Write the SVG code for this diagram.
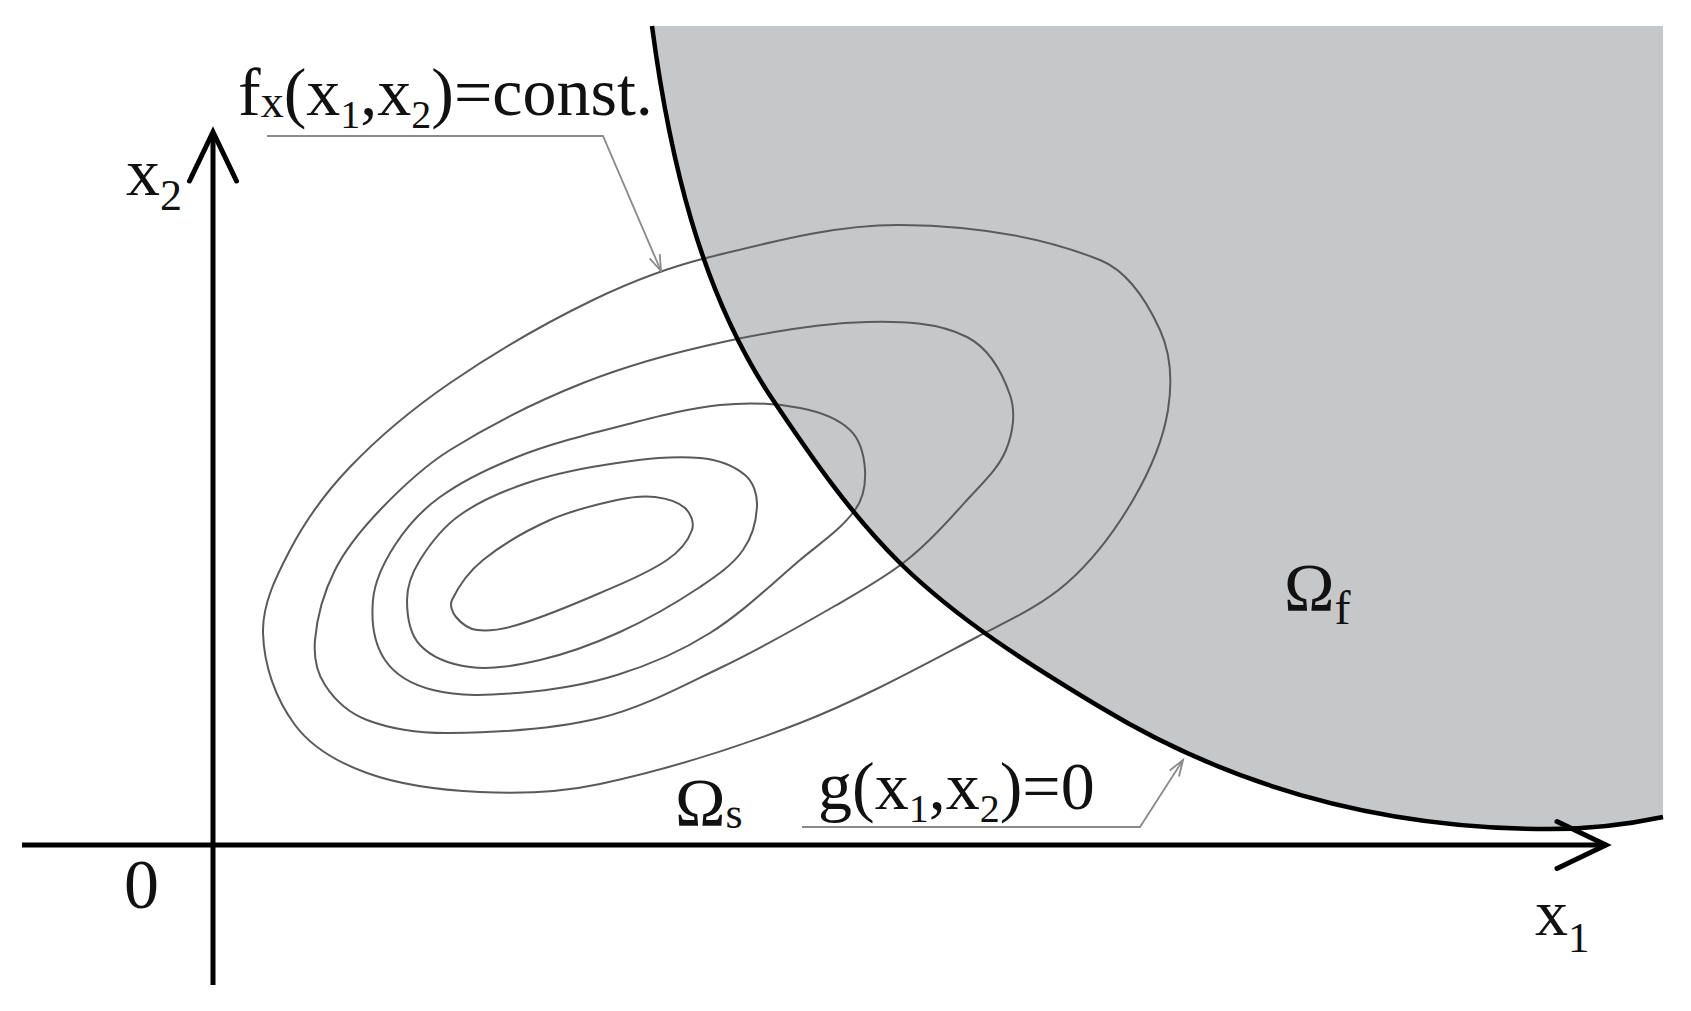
<svg xmlns="http://www.w3.org/2000/svg" width="1691" height="1011" viewBox="0 0 1691 1011">
  <style>
    .txt { font-family: "Liberation Serif", "Times New Roman", serif; fill: #111; }
    .contour { fill: none; stroke: #5a5a5a; stroke-width: 2; }
    .axis { fill: none; stroke: #000; stroke-width: 5; }
    .leader { fill: none; stroke: #8a8a8a; stroke-width: 1.8; }
  </style>
  <defs>
    <marker id="axisHead" markerUnits="userSpaceOnUse" viewBox="-55 -30 60 60" refX="0" refY="0" markerWidth="60" markerHeight="60" orient="auto" overflow="visible">
      <path d="M-49,-23.5 L0,0 L-49,23.5" fill="none" stroke="#000" stroke-width="5" stroke-linecap="round" stroke-linejoin="miter"/>
    </marker>
    <marker id="leaderHead" markerUnits="userSpaceOnUse" viewBox="-20 -10 24 20" refX="0" refY="0" markerWidth="24" markerHeight="20" orient="auto" overflow="visible">
      <path d="M-16,-5.5 L0,0 L-16,5.5" fill="none" stroke="#8a8a8a" stroke-width="1.8"/>
    </marker>
  </defs>
  <rect width="1691" height="1011" fill="#fff"/>

  <g id="region-omega-f">
    <path d="M652,26 C669,155 700,292 773,400 C811.5,457.3 851,514.7 900,563 C958,620 1029.7,664.7 1100,707 C1237,790 1390,829 1550,829 C1590,829 1630,824 1663,817 L1663,26 Z" fill="#c6c7c9"/>
  </g>

  <g id="contours">
    <path id="contour-5" class="contour" d="M263,633 C262.2,603.9 276.5,575.8 290,550 C305.8,519.8 326.4,491.6 350,467 C380.1,435.6 414.2,407.6 450,383 C495.4,351.8 543.4,324 593,300 C630.4,281.9 669.6,266.9 710,257 C772.3,241.8 835.8,224.5 900,225 C967.7,225.5 1037.2,234.7 1100,260 C1128.5,271.5 1147.3,302 1160,330 C1171.1,354.4 1172.2,383.5 1168,410 C1162.9,441.8 1149.2,472.2 1133,500 C1115.2,530.5 1093.5,559.7 1067,583 C1040.7,606.1 1008,620.8 977,637 C918.9,667.4 861.1,699.2 800,723 C735,748.3 668.1,769.3 600,784 C560.8,792.5 520.1,793.9 480,792 C441.8,790.2 402.9,786 367,773 C339.9,763.2 312.2,748.1 295,725 C275.6,698.9 263.9,665.5 263,633 Z"/>
    <path id="contour-4" class="contour" d="M315,640 C317.1,615.8 324.1,591.7 335,570 C346.2,547.7 362.7,528.1 380,510 C401.2,487.8 424,466.3 450,450 C492.1,423.7 536.9,401.3 583,383 C628.2,365.1 675.5,352.2 723,342 C770.4,331.8 818.5,323 867,322 C900.7,321.3 937,321.7 967,337 C988.4,348 1002.1,372.2 1010,395 C1016,412.4 1013,433 1006,450 C998,469.5 981.1,484.3 967,500 C948.1,521 929.1,542.3 907,560 C884.2,578.2 858.3,592.4 833,607 C795.9,628.4 758.6,649.6 720,668 C680.9,686.6 642.1,707.9 600,718 C551.2,729.7 500.2,732.5 450,733 C422,733.3 393.2,730 367,720 C350,713.5 334.9,700.3 325,685 C316.6,672.1 313.7,655.3 315,640 Z"/>
    <path id="contour-3" class="contour" d="M373,600 C374.7,580.4 384.3,561.5 395,545 C406.9,526.6 422.2,509.8 440,497 C463.4,480.1 490.1,467.6 517,457 C549.4,444.2 583.3,435.6 617,427 C651,418.3 685.1,408.6 720,405 C746.6,402.2 773.8,403 800,408 C817.9,411.4 836.8,417.4 850,430 C860.3,439.8 864.1,455.8 865,470 C865.8,483.7 863,498.9 855,510 C840.5,530.1 818.9,544 800,560 C770.5,585 742.7,612.5 710,633 C681.2,651.1 649.5,664.9 617,675 C584.6,685.1 550.8,690.3 517,693 C489.1,695.3 460.2,696.8 433,690 C414.7,685.4 395.5,675.7 385,660 C373.7,643 371.2,620.3 373,600 Z"/>
    <path id="contour-2" class="contour" d="M407,600 C407,586 412.6,571.9 420,560 C430.6,543 443.6,526.6 460,515 C481.1,500.1 505.5,490.1 530,482 C558.2,472.7 587.6,467.2 617,463 C644.4,459.1 672.4,455.4 700,458 C715.9,459.5 732.7,464.8 745,475 C753.3,481.9 757.3,494.2 757,505 C756.6,520.7 752,537.1 743,550 C732.2,565.5 715.7,576.5 700,587 C674.5,604 647.8,619.3 620,632 C594.2,643.7 567.6,653.6 540,660 C517.2,665.3 493.2,669.9 470,667 C451.9,664.7 432.5,658.3 420,645 C409.3,633.6 407,615.6 407,600 Z"/>
    <path id="contour-1" class="contour" d="M452,600 C459.2,584.7 469.9,570.7 483,560 C503.2,543.6 526.3,530.6 550,520 C571.3,510.5 594.2,505 617,500 C629.4,497.3 642.4,495.5 655,497 C665.6,498.3 677,500.9 685,508 C690.7,513.1 694.5,522.7 692,530 C687.7,542.3 677.7,552.7 667,560 C646.5,574.1 622.8,583.1 600,593 C572.8,604.8 545.5,616.4 517,625 C504.2,628.9 490.3,631.7 477,630 C468.9,628.9 461.2,623.3 456,617 C452.3,612.5 449.5,605.2 452,600 Z"/>
  </g>

  <g id="constraint-boundary">
    <path d="M652,26 C669,155 700,292 773,400 C811.5,457.3 851,514.7 900,563 C958,620 1029.7,664.7 1100,707 C1237,790 1390,829 1550,829 C1590,829 1630,824 1663,817" fill="none" stroke="#000" stroke-width="4.5"/>
  </g>

  <g id="axes">
    <line id="axis-x1" class="axis" x1="22" y1="845" x2="1606" y2="845" marker-end="url(#axisHead)"/>
    <line id="axis-x2" class="axis" x1="213" y1="985" x2="213" y2="132" marker-end="url(#axisHead)"/>
  </g>

  <g id="connectors">
    <polyline id="leader-f" class="leader" points="267,136 603,136 661,271" marker-end="url(#leaderHead)"/>
    <polyline id="leader-g" class="leader" points="802,827 1140,827 1183,760" marker-end="url(#leaderHead)"/>
  </g>

  <g id="label-f">
    <text class="txt" x="238" y="115" font-size="68">f<tspan font-size="46" dy="2">x</tspan><tspan dy="-2">(x</tspan><tspan font-size="40" dy="13">1</tspan><tspan dy="-13">,x</tspan><tspan font-size="40" dy="13">2</tspan><tspan dy="-13">)=const.</tspan></text>
  </g>
  <g id="label-g">
    <text class="txt" x="818" y="809" font-size="68">g(x<tspan font-size="40" dy="13">1</tspan><tspan dy="-13">,x</tspan><tspan font-size="40" dy="13">2</tspan><tspan dy="-13">)=0</tspan></text>
  </g>
  <g id="label-omega-s">
    <text class="txt" x="675" y="825" font-size="68">Ω<tspan font-size="44" dy="3">s</tspan></text>
  </g>
  <g id="label-omega-f">
    <text class="txt" x="1284" y="610" font-size="68">Ω<tspan font-size="48" dy="14">f</tspan></text>
  </g>
  <g id="label-x2">
    <text class="txt" x="126" y="195" font-size="68">x<tspan font-size="44" dy="15">2</tspan></text>
  </g>
  <g id="label-x1">
    <text class="txt" x="1535" y="935" font-size="66">x<tspan font-size="43" dy="17">1</tspan></text>
  </g>
  <g id="label-origin">
    <text class="txt" x="124" y="908" font-size="70">0</text>
  </g>
</svg>
